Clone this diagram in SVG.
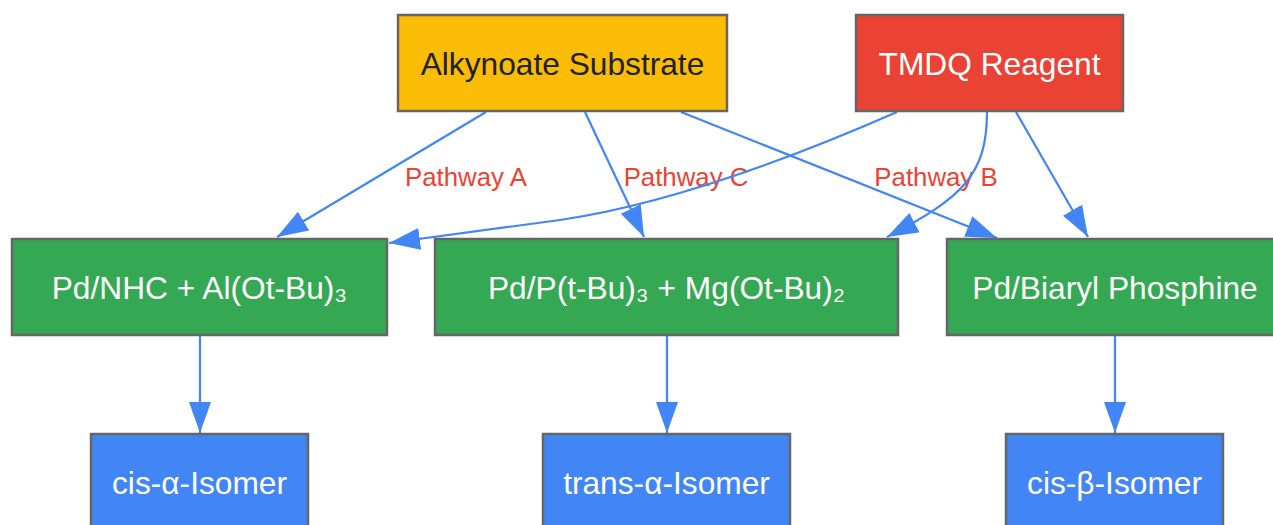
<svg xmlns="http://www.w3.org/2000/svg" width="1273" height="525" viewBox="0 0 1273 525">
<style>
.box{stroke:#666666;stroke-width:2.5}
.t{font-family:"Liberation Sans",Arial,sans-serif;font-size:31.7px;text-anchor:middle;fill:#ffffff}
.dark{fill:#202124}
.lbl{font-family:"Liberation Sans",Arial,sans-serif;font-size:25.8px;text-anchor:middle;fill:#EA4335}
.e{fill:none;stroke:#4285F4;stroke-width:2.2}
</style>
<defs>
<marker id="arr" markerUnits="userSpaceOnUse" markerWidth="32" markerHeight="24" refX="31" refY="11" orient="auto">
<path d="M0,0 L31,11 L0,22 z" fill="#4285F4"/>
</marker>
</defs>
<rect width="1273" height="525" fill="#ffffff"/>
<g id="labels">
<text class="lbl" x="466" y="186">Pathway A</text>
<text class="lbl" x="686" y="186">Pathway C</text>
<text class="lbl" x="936" y="186">Pathway B</text>
</g>
<g id="connectors">
<path class="e" d="M486,112 L277,237" marker-end="url(#arr)"/>
<path class="e" d="M585,112 L644,237" marker-end="url(#arr)"/>
<path class="e" d="M681,112 L997,238" marker-end="url(#arr)"/>
<path class="e" d="M897,112 C760,172 650,207 560,220 L389,243" marker-end="url(#arr)"/>
<path class="e" d="M987,112 C987,175 962,198 887,237" marker-end="url(#arr)"/>
<path class="e" d="M1016,112 L1088,237" marker-end="url(#arr)"/>
<path class="e" d="M200,336 L200,433" marker-end="url(#arr)"/>
<path class="e" d="M667,336 L667,433" marker-end="url(#arr)"/>
<path class="e" d="M1115,336 L1115,433" marker-end="url(#arr)"/>
</g>
<g id="alkynoate">
<rect class="box" x="398" y="15" width="329" height="96" fill="#FBBC05"/>
<text class="t dark" x="562.5" y="75">Alkynoate Substrate</text>
</g>
<g id="tmdq">
<rect class="box" x="856" y="15" width="267" height="96" fill="#EA4335"/>
<text class="t" x="989.5" y="75">TMDQ Reagent</text>
</g>
<g id="pdnhc">
<rect class="box" x="12" y="239" width="375" height="96" fill="#34A853"/>
<text class="t" x="199.5" y="298.5">Pd/NHC + Al(Ot-Bu)₃</text>
</g>
<g id="pdptbu">
<rect class="box" x="435" y="239" width="463" height="96" fill="#34A853"/>
<text class="t" x="666.5" y="298.5">Pd/P(t-Bu)₃ + Mg(Ot-Bu)₂</text>
</g>
<g id="pdbiaryl">
<rect class="box" x="947" y="239" width="336" height="96" fill="#34A853"/>
<text class="t" x="1115" y="298.5">Pd/Biaryl Phosphine</text>
</g>
<g id="cisalpha">
<rect class="box" x="91" y="434" width="217" height="96" fill="#4285F4"/>
<text class="t" x="199.5" y="494">cis-α-Isomer</text>
</g>
<g id="transalpha">
<rect class="box" x="543" y="434" width="247" height="96" fill="#4285F4"/>
<text class="t" x="666.5" y="494">trans-α-Isomer</text>
</g>
<g id="cisbeta">
<rect class="box" x="1006" y="434" width="217" height="96" fill="#4285F4"/>
<text class="t" x="1114.5" y="494">cis-β-Isomer</text>
</g>
</svg>
